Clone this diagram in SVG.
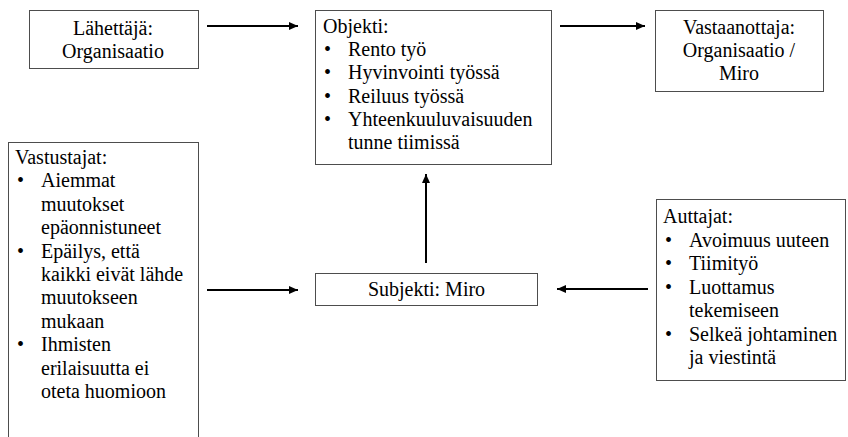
<svg xmlns="http://www.w3.org/2000/svg" width="848" height="437" viewBox="0 0 848 437">
  <style>
    .box { fill: #ffffff; stroke: #4d4d4d; stroke-width: 1; }
    .t { font-family: "Liberation Serif", "Times New Roman", serif; font-size: 20px; fill: #000000; }
    .c { text-anchor: middle; }
    .conn { stroke: #000000; stroke-width: 2; fill: none; marker-end: url(#arrow); }
  </style>
  <defs>
    <marker id="arrow" markerUnits="userSpaceOnUse" markerWidth="10" markerHeight="8" refX="9" refY="4" orient="auto">
      <path d="M0,0 L9,4 L0,8 Z" fill="#000000"/>
    </marker>
  </defs>
  <rect width="848" height="437" fill="#ffffff"/>

  <g id="connectors">
    <line class="conn" x1="207" y1="26" x2="298" y2="26"/>
    <line class="conn" x1="560" y1="26" x2="645" y2="26"/>
    <line class="conn" x1="207" y1="290" x2="298" y2="290"/>
    <line class="conn" x1="648" y1="289" x2="557" y2="289"/>
    <line class="conn" x1="426" y1="263" x2="426" y2="174"/>
  </g>

  <g id="lahettaja">
    <rect class="box" x="29.5" y="10.5" width="169" height="58"/>
    <text class="t c" x="113" y="35">Lähettäjä:</text>
    <text class="t c" x="113" y="58">Organisaatio</text>
  </g>

  <g id="objekti">
    <rect class="box" x="315.5" y="10.5" width="236" height="154"/>
    <text class="t" x="323" y="33">Objekti:</text>
    <text class="t" x="324" y="56">•</text><text class="t" x="348" y="56">Rento työ</text>
    <text class="t" x="324" y="79">•</text><text class="t" x="348" y="79">Hyvinvointi työssä</text>
    <text class="t" x="324" y="103">•</text><text class="t" x="348" y="103">Reiluus työssä</text>
    <text class="t" x="324" y="126">•</text><text class="t" x="348" y="126">Yhteenkuuluvaisuuden</text>
    <text class="t" x="348" y="149">tunne tiimissä</text>
  </g>

  <g id="vastaanottaja">
    <rect class="box" x="655.5" y="10.5" width="168" height="81"/>
    <text class="t c" x="739" y="34">Vastaanottaja:</text>
    <text class="t c" x="739" y="57">Organisaatio /</text>
    <text class="t c" x="739" y="80">Miro</text>
  </g>

  <g id="vastustajat">
    <rect class="box" x="8.5" y="142.5" width="190" height="310"/>
    <text class="t" x="15" y="164">Vastustajat:</text>
    <text class="t" x="17" y="187">•</text><text class="t" x="41" y="187">Aiemmat</text>
    <text class="t" x="41" y="211">muutokset</text>
    <text class="t" x="41" y="234">epäonnistuneet</text>
    <text class="t" x="17" y="258">•</text><text class="t" x="41" y="258">Epäilys, että</text>
    <text class="t" x="41" y="281">kaikki eivät lähde</text>
    <text class="t" x="41" y="304">muutokseen</text>
    <text class="t" x="41" y="328">mukaan</text>
    <text class="t" x="17" y="351">•</text><text class="t" x="41" y="351">Ihmisten</text>
    <text class="t" x="41" y="375">erilaisuutta ei</text>
    <text class="t" x="41" y="398">oteta huomioon</text>
  </g>

  <g id="subjekti">
    <rect class="box" x="315.5" y="273.5" width="222" height="32"/>
    <text class="t c" x="426.5" y="296">Subjekti: Miro</text>
  </g>

  <g id="auttajat">
    <rect class="box" x="656.5" y="199.5" width="189" height="181"/>
    <text class="t" x="663" y="223">Auttajat:</text>
    <text class="t" x="665" y="247">•</text><text class="t" x="689" y="247">Avoimuus uuteen</text>
    <text class="t" x="665" y="270">•</text><text class="t" x="689" y="270">Tiimityö</text>
    <text class="t" x="665" y="294">•</text><text class="t" x="689" y="294">Luottamus</text>
    <text class="t" x="689" y="317">tekemiseen</text>
    <text class="t" x="665" y="341">•</text><text class="t" x="689" y="341">Selkeä johtaminen</text>
    <text class="t" x="689" y="364">ja viestintä</text>
  </g>
</svg>
